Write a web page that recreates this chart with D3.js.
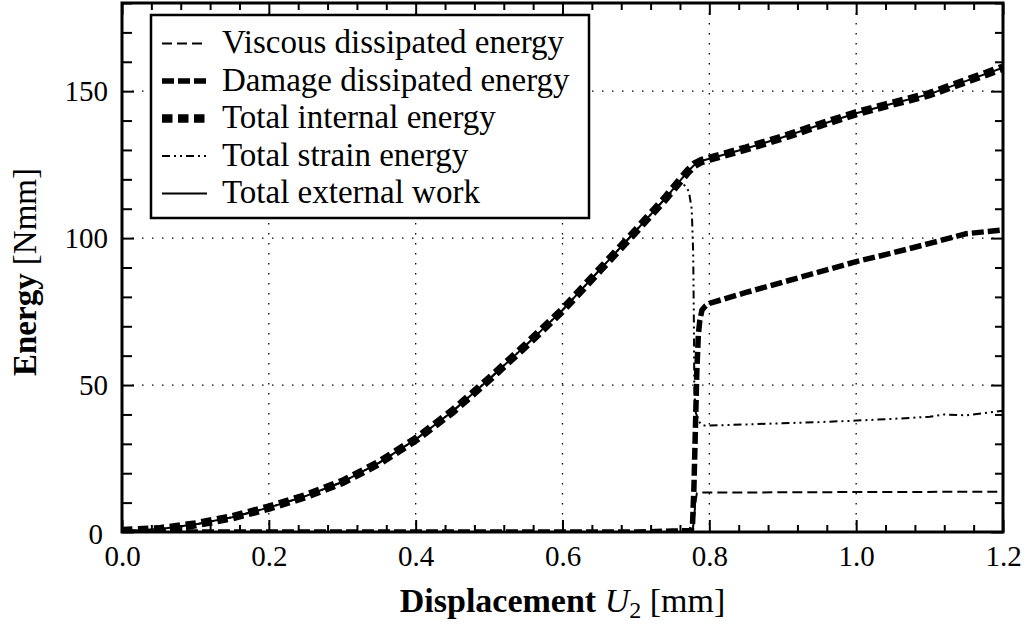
<!DOCTYPE html>
<html>
<head>
<meta charset="utf-8">
<script src="https://cdn.jsdelivr.net/npm/d3@7"></script>
<style>
  html, body { margin: 0; padding: 0; background: #fff; }
  svg text { font-family: "Liberation Serif", "Times New Roman", serif; fill: #000; }
</style>
</head>
<body>
<svg id="chart" width="1026" height="624"></svg>
<script>
// ---- data -------------------------------------------------------------
const xTickValues = [0.0, 0.2, 0.4, 0.6, 0.8, 1.0, 1.2];
const yTickValues = [0, 50, 100, 150];

// Total external work / total internal energy [Nmm] vs displacement U2 [mm]
const workU = [0, 0.05, 0.1, 0.15, 0.2, 0.25, 0.3, 0.35, 0.4, 0.45, 0.5, 0.55, 0.6, 0.65, 0.7, 0.72, 0.74, 0.76, 0.77, 0.78, 0.79, 0.8, 0.85, 0.9, 0.95, 1.0, 1.05, 1.1, 1.15, 1.2];
const workE = [0.3, 0.9, 2.6, 5.0, 8.3, 12.2, 17.0, 23.5, 31.5, 41.0, 52.0, 63.5, 75.5, 89.0, 102.5, 108.0, 113.5, 119.5, 122.5, 125.0, 126.3, 127.0, 130.5, 134.3, 138.5, 142.5, 145.8, 149.0, 153.5, 158.0];
const internalE = [0.3, 0.9, 2.6, 5.0, 8.3, 12.2, 17.0, 23.5, 31.5, 41.0, 52.0, 63.5, 75.5, 89.0, 102.5, 108.0, 113.5, 119.5, 122.5, 125.0, 126.3, 127.0, 130.5, 134.3, 138.5, 142.5, 145.8, 149.0, 153.5, 158.0];

// Total strain energy
const strainU = [0, 0.05, 0.1, 0.15, 0.2, 0.25, 0.3, 0.35, 0.4, 0.45, 0.5, 0.55, 0.6, 0.65, 0.7, 0.72, 0.74, 0.76, 0.766, 0.772, 0.776, 0.778, 0.779, 0.7795, 0.781, 0.786, 0.791, 0.8, 0.85, 0.9, 0.95, 1.0, 1.05, 1.1, 1.12, 1.15, 1.2];
const strainE = [0.3, 0.9, 2.6, 5.0, 8.3, 12.2, 17.0, 23.5, 31.5, 41.0, 52.0, 63.5, 75.5, 89.0, 102.5, 108.0, 113.5, 118.5, 118.0, 116.0, 110.0, 95.0, 70.0, 50.0, 41.0, 37.5, 36.2, 36.2, 36.6, 37.0, 37.4, 37.9, 38.5, 39.2, 40.0, 39.7, 41.3];

// Damage dissipated energy
const damageU = [0, 0.7, 0.75, 0.775, 0.777, 0.779, 0.781, 0.783, 0.785, 0.787, 0.79, 0.795, 0.8, 0.85, 0.9, 0.95, 1.0, 1.05, 1.1, 1.15, 1.2];
const damageE = [0, 0, 0.3, 0.5, 2.0, 15.0, 35.0, 55.0, 67.0, 72.0, 75.5, 77.0, 77.8, 81.5, 85.0, 88.5, 92.0, 95.0, 98.2, 101.5, 102.8];

// Viscous dissipated energy
const viscousU = [0, 0.777, 0.779, 0.781, 0.783, 0.79, 0.9, 1.0, 1.2];
const viscousE = [0, 0, 4.0, 10.0, 13.2, 13.4, 13.5, 13.6, 13.7];

const seriesNames = ["Viscous dissipated energy", "Damage dissipated energy", "Total internal energy", "Total strain energy", "Total external work"];

// ---- layout -----------------------------------------------------------
const svg = d3.select("#chart");
const plotLeft = 122, plotRight = 1003, plotTop = 3, plotBottom = 532;

const x = d3.scaleLinear().domain([0, 1.2]).range([plotLeft, plotRight]);
const y = d3.scaleLinear().domain([0, 180]).range([plotBottom, plotTop]);

const styles = [
  { width: 2,   dash: "10,5" },
  { width: 5.5, dash: "12,4" },
  { width: 8.5, dash: "10.5,5.5" },
  { width: 2,   dash: "8,4,2,4,2,4" },
  { width: 2,   dash: null }
];

svg.append("defs").append("clipPath").attr("id", "plotClip")
  .append("rect").attr("x", plotLeft).attr("y", plotTop)
  .attr("width", plotRight - plotLeft).attr("height", plotBottom - plotTop);

// dotted grid at the interior major ticks
const grid = svg.append("g");
grid.selectAll("line.gx").data(xTickValues.slice(1, -1)).join("line")
  .attr("x1", d => x(d)).attr("x2", d => x(d)).attr("y1", plotTop).attr("y2", plotBottom)
  .attr("stroke", "#000").attr("stroke-width", 1.3).attr("stroke-dasharray", "1.5,8.5");
grid.selectAll("line.gy").data(yTickValues.slice(1)).join("line")
  .attr("x1", plotLeft).attr("x2", plotRight).attr("y1", d => y(d)).attr("y2", d => y(d))
  .attr("stroke", "#000").attr("stroke-width", 1.3).attr("stroke-dasharray", "1.5,8.5");

// ---- curves -----------------------------------------------------------
const line = d3.line().x(d => x(d[0])).y(d => y(d[1]));
const zip = (u, e) => u.map((v, i) => [v, e[i]]);
const curves = [
  zip(viscousU, viscousE),
  zip(damageU, damageE),
  zip(workU, internalE),
  zip(strainU, strainE),
  zip(workU, workE)
];
const plot = svg.append("g").attr("clip-path", "url(#plotClip)");
curves.forEach((c, i) => {
  plot.append("path").datum(c).attr("d", line)
    .attr("fill", "none").attr("stroke", "#000")
    .attr("stroke-width", styles[i].width)
    .attr("stroke-dasharray", styles[i].dash)
    .attr("stroke-linejoin", "round");
});

// ---- axes (ticks pointing inward on all four sides) ------------------
const xMinor = d3.range(0, 31).map(i => i * 0.04).filter(v => Math.abs(v / 0.2 - Math.round(v / 0.2)) > 1e-6);
const yMinor = d3.range(0, 19).map(i => i * 10).filter(v => v % 50 !== 0);
const tickFont = "29px";

function styleAxis(g) {
  g.select(".domain").remove();
  g.selectAll(".tick line").attr("stroke", "#000").attr("stroke-width", 2);
  g.selectAll("text").style("font-size", tickFont).attr("fill", "#000");
}

svg.append("g").attr("transform", `translate(0,${plotBottom})`)
  .call(d3.axisBottom(x).tickValues(xTickValues).tickSize(-12).tickPadding(13).tickFormat(d3.format(".1f")))
  .call(styleAxis);
svg.append("g").attr("transform", `translate(0,${plotBottom})`)
  .call(d3.axisBottom(x).tickValues(xMinor).tickSize(-7).tickFormat(""))
  .call(styleAxis);
svg.append("g").attr("transform", `translate(0,${plotTop})`)
  .call(d3.axisTop(x).tickValues(xTickValues).tickSize(-12).tickFormat(""))
  .call(styleAxis);
svg.append("g").attr("transform", `translate(0,${plotTop})`)
  .call(d3.axisTop(x).tickValues(xMinor).tickSize(-7).tickFormat(""))
  .call(styleAxis);

const yAx = svg.append("g").attr("transform", `translate(${plotLeft},0)`)
  .call(d3.axisLeft(y).tickValues(yTickValues).tickSize(-12).tickPadding(14).tickFormat(d3.format("d")))
  .call(styleAxis);
// the zero label sits a little lower and further left, clear of "0.0"
yAx.selectAll(".tick").filter(d => d === 0).select("text").attr("x", -19).attr("dy", "0.38em");
svg.append("g").attr("transform", `translate(${plotLeft},0)`)
  .call(d3.axisLeft(y).tickValues(yMinor).tickSize(-10).tickFormat(""))
  .call(styleAxis);
svg.append("g").attr("transform", `translate(${plotRight},0)`)
  .call(d3.axisRight(y).tickValues(yTickValues).tickSize(-12).tickFormat(""))
  .call(styleAxis);
svg.append("g").attr("transform", `translate(${plotRight},0)`)
  .call(d3.axisRight(y).tickValues(yMinor).tickSize(-8).tickFormat(""))
  .call(styleAxis);

// plot frame
svg.append("rect").attr("x", plotLeft).attr("y", plotTop)
  .attr("width", plotRight - plotLeft).attr("height", plotBottom - plotTop)
  .attr("fill", "none").attr("stroke", "#000").attr("stroke-width", 3);

// ---- axis titles ------------------------------------------------------
const xt = svg.append("text").attr("x", (plotLeft + plotRight) / 2).attr("y", 612)
  .attr("text-anchor", "middle").style("font-size", "34px");
xt.append("tspan").attr("font-weight", "bold").text("Displacement ");
xt.append("tspan").attr("font-style", "italic").text("U");
xt.append("tspan").attr("dy", "6").style("font-size", "24px").text("2");
xt.append("tspan").attr("dy", "-6").text(" [mm]");

const yt = svg.append("text").attr("transform", "translate(36,272) rotate(-90)")
  .attr("text-anchor", "middle").style("font-size", "33px");
yt.append("tspan").attr("font-weight", "bold").text("Energy ");
yt.append("tspan").text("[Nmm]");

// ---- legend -----------------------------------------------------------
const lg = svg.append("g");
lg.append("rect").attr("x", 151).attr("y", 15).attr("width", 438).attr("height", 203)
  .attr("fill", "#fff").attr("stroke", "#000").attr("stroke-width", 2.5);
seriesNames.forEach((name, i) => {
  const cy = 43.5 + i * 37.5;
  lg.append("line").attr("x1", 162).attr("x2", 207).attr("y1", cy).attr("y2", cy)
    .attr("stroke", "#000").attr("stroke-width", styles[i].width)
    .attr("stroke-dasharray", styles[i].dash);
  lg.append("text").attr("x", 222).attr("y", cy).attr("dy", "0.3em")
    .style("font-size", "33px").text(name);
});
</script>
</body>
</html>
